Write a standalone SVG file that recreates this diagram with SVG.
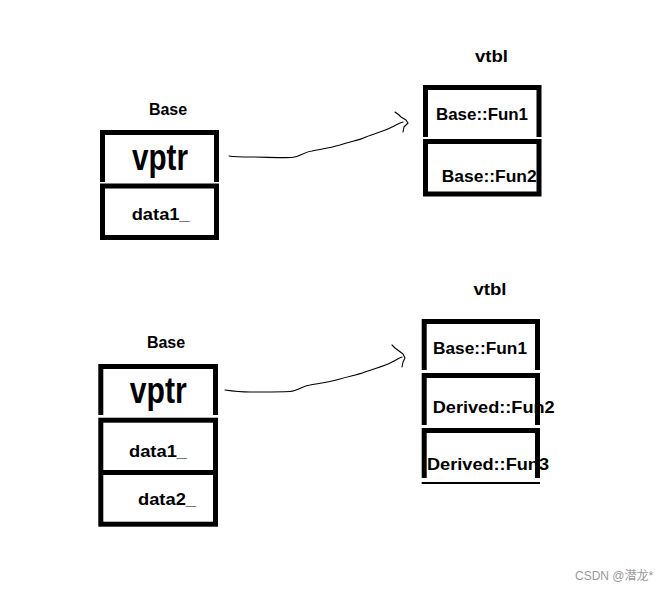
<svg xmlns="http://www.w3.org/2000/svg" width="671" height="591" viewBox="0 0 671 591">
<style>
.box{fill:none;stroke:#000;stroke-width:5;stroke-linejoin:miter}
.t{font-family:"Liberation Sans",Arial,sans-serif;font-weight:bold;font-size:17px;fill:#000}
.lbl{font-family:"Liberation Sans",Arial,sans-serif;font-weight:bold;font-size:16px;fill:#000;text-anchor:middle}
.big{font-family:"Liberation Sans",Arial,sans-serif;font-weight:bold;font-size:36px;fill:#000;text-anchor:middle}
.con{fill:none;stroke:#000;stroke-width:1.1;stroke-linecap:round;stroke-linejoin:round}
</style>
<rect width="671" height="591" fill="#fff"/>
<g id="base1">
<text class="lbl" x="168" y="115">Base</text>
<text class="big" x="160" y="170" textLength="56" lengthAdjust="spacingAndGlyphs">vptr</text>
<text class="t" x="131.7" y="220" textLength="58" lengthAdjust="spacingAndGlyphs">data1_</text>
<path class="box" d="M102.5,182 V132.5 H216.5 V182"/>
<rect class="box" x="102.5" y="186" width="114" height="51.5"/>
</g>
<g id="vtbl1">
<text class="lbl" x="491.5" y="62" textLength="33" lengthAdjust="spacingAndGlyphs" style="font-size:17px">vtbl</text>
<text class="t" x="436" y="120" textLength="92" lengthAdjust="spacingAndGlyphs">Base::Fun1</text>
<text class="t" x="441.7" y="182" textLength="95" lengthAdjust="spacingAndGlyphs">Base::Fun2</text>
<path class="box" d="M425.5,137 V87.5 H539 V137"/>
<rect class="box" x="425.5" y="141.5" width="113.5" height="52.5"/>
</g>
<g id="base2">
<text class="lbl" x="166" y="348">Base</text>
<text class="big" x="158.3" y="403" textLength="57" lengthAdjust="spacingAndGlyphs">vptr</text>
<text class="t" x="129" y="456.7" textLength="58" lengthAdjust="spacingAndGlyphs">data1_</text>
<text class="t" x="138" y="505" textLength="58" lengthAdjust="spacingAndGlyphs">data2_</text>
<path class="box" d="M100.8,415 V366.5 H215.5 V415"/>
<rect class="box" x="100.8" y="420.2" width="114.7" height="104"/>
<line class="box" x1="100.8" y1="472.5" x2="215.5" y2="472.5"/>
</g>
<g id="vtbl2">
<text class="lbl" x="490" y="295" textLength="33" lengthAdjust="spacingAndGlyphs" style="font-size:17px">vtbl</text>
<text class="t" x="433" y="354" textLength="94" lengthAdjust="spacingAndGlyphs">Base::Fun1</text>
<text class="t" x="432.7" y="413.3" textLength="122" lengthAdjust="spacingAndGlyphs">Derived::Fun2</text>
<text class="t" x="427" y="470" textLength="122" lengthAdjust="spacingAndGlyphs">Derived::Fun3</text>
<path class="box" d="M424.2,370 V321.5 H537.5 V370"/>
<path class="box" d="M424.2,425 V375.5 H537.5 V425"/>
<path class="box" d="M424.2,478 V430.5 H537.5 V478"/>
<line x1="421.7" y1="483" x2="540" y2="483" stroke="#000" stroke-width="2"/>
</g>
<g id="connectors">
<path class="con" d="M229,156 C236,157 242,157 250,157 C265,157 280,158 292,157.5 C300,157 303,152 312,151 C322,149 330,148 340,145 C350,141 358,141 366,137 C376,133 385,131 392,127 C396,125 399,123 403,122"/>
<path class="con" d="M395,112 L399,115 L401,117 L406,120 L408,123 L404,127 L403,132"/>
<path class="con" d="M225,390 C232,391 240,392 250,392 C265,392 280,392 290,391.5 C298,391 302,386 310,385 C322,383 330,382 340,379 C350,376 357,375 365,372 C376,368 385,366 392,362 C396,360 399,358 402,357"/>
<path class="con" d="M392,345 L395,348 L399,351 L403,354 L405,358 L403,362 L402,367"/>
</g>
<text x="575" y="580" style="font-family:'Liberation Sans','Noto Sans CJK SC',sans-serif;font-size:12px;fill:#999">CSDN @潜龙*</text>
</svg>
